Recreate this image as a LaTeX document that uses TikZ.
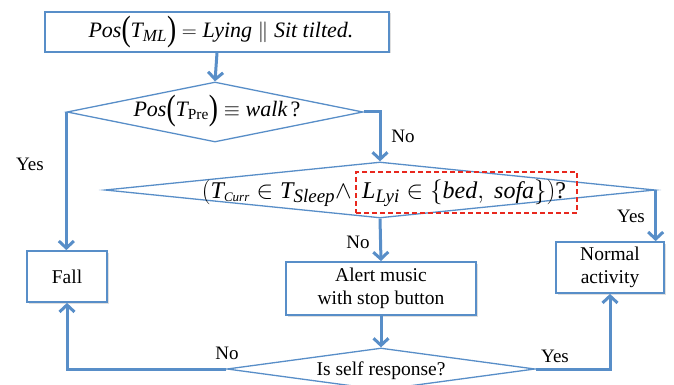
\documentclass[tikz,border=0pt]{standalone}
\usepackage{amsmath}
\usepackage{graphicx}
\usepackage{fontspec}
\setmainfont{Liberation Serif}
\newfontfamily\tms{Liberation Serif}
\usetikzlibrary{arrows.meta,shapes.geometric,shadows}
\definecolor{flowblue}{RGB}{88,142,200}
\definecolor{dashred}{RGB}{232,40,30}
\newcommand{\mi}[1]{\text{\tms\itshape #1}}
\newcommand{\mr}[1]{\text{\tms\upshape #1}}
\newcommand{\sbt}[2]{\text{\fontsize{#1}{#1}\selectfont\tms\itshape #2}}
\newcommand{\tallpar}[1]{\text{\raisebox{-0.34ex}{\scalebox{1.25}[1.6]{\tms\upshape #1}}}}
\tikzset{
  box/.style={draw=flowblue, line width=1.8pt, fill=white, inner sep=0pt, align=center,
    font=\tms\fontsize{19.5}{23}\selectfont,
    drop shadow={opacity=0.25, shadow xshift=1.5pt, shadow yshift=-1.5pt}},
  decision/.style={draw=flowblue, line width=1.3pt, diamond, inner sep=0pt},
  txt/.style={inner sep=0pt, font=\tms\fontsize{19.5}{23}\selectfont},
  flow/.style={draw=flowblue, line width=3pt, -{Straight Barb[length=7pt,width=15pt,line width=3pt]}},
  lbl/.style={inner sep=0pt, font=\tms\fontsize{19}{22}\selectfont}
}
\begin{document}
\begin{tikzpicture}[x=1pt,y=-1pt]
\clip (0,0) rectangle (674,385);
\fill[white] (0,0) rectangle (674,385);
% nodes
\node[box, minimum width=344pt, minimum height=40pt] (top) at (217,32) {};
\node[txt, font=\tms\fontsize{22}{24}\selectfont] (toptxt) at (221,32)
  {$\mi{Pos}\tallpar{(}\mi{T}_{\sbt{17}{ML}}\tallpar{)}=\mi{Lying}\;\|\;\mi{Sit tilted.}$};
\node[decision, minimum width=296pt, minimum height=60pt] (d1) at (215,112) {};
\node[txt, font=\tms\fontsize{22}{24}\selectfont] (d1txt) at (217,111)
  {$\mi{Pos}\tallpar{(}\mi{T}_{\mr{Pre}}\tallpar{)}\equiv\mi{walk}\,\mr{?}$};
\node[decision, minimum width=550pt, minimum height=56pt] (d2) at (380,190) {};
\node[txt, anchor=base east, font=\tms\fontsize{24}{26}\selectfont] (d2a) at (352,198)
  {$(\mi{T}_{\sbt{13}{Curr}}\in \mi{T}_{\sbt{19}{Sleep}}\wedge$};
\node[txt, anchor=base west, font=\tms\fontsize{24}{26}\selectfont] (d2b) at (362,198)
  {$\mi{L}_{\sbt{19}{Lyi}}\in\{\mi{bed},\ \mi{sofa}\})\mr{?}$};
\node[draw=dashred, dash pattern=on 5pt off 3pt, line width=1.4pt, minimum width=221pt, minimum height=41pt, inner sep=0pt] (red) at (466.5,192.5) {};
\node[box, minimum width=80pt, minimum height=51pt] (fall) at (67,276.5) {Fall};
\node[box, minimum width=190pt, minimum height=53pt] (alert) at (381,288.5) {Alert music\\with stop button};
\node[box, minimum width=108pt, minimum height=51pt] (normal) at (610,267.5) {Normal\\activity};
\node[decision, minimum width=308pt, minimum height=42pt] (d3) at (381,369) {};
\node[txt] (d3txt) at (381,371) {Is self response?};
% connectors
\draw[flow] (top.south) -- (d1.north);
\draw[flow] (d1.west) -- (d1.west |- fall.north);
\draw[flow] (d1.east) -| (d2.north);
\draw[flow] (d2.south) -- (alert.north);
\draw[flow] (d2.east) -- (d2.east |- normal.north);
\draw[flow] (alert.south) -- (d3.north);
\draw[flow] (d3.west) -| (fall.south);
\draw[flow] (d3.east) -| (normal.south);
% labels
\node[lbl] (yes1) at (30,164) {Yes};
\node[lbl] (no1) at (403,136) {No};
\node[lbl] (no2) at (358,242) {No};
\node[lbl] (yes2) at (631,216) {Yes};
\node[lbl] (no3) at (227,353) {No};
\node[lbl] (yes3) at (555,356) {Yes};
\end{tikzpicture}
\end{document}
